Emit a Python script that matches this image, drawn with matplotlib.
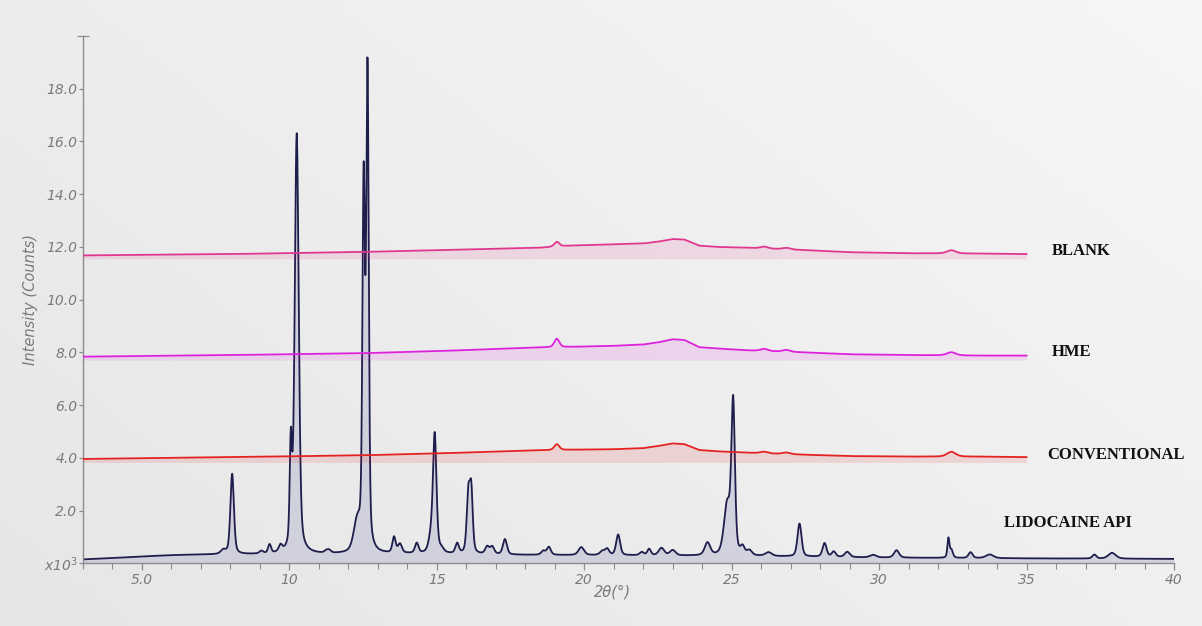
import numpy as np
import matplotlib.pyplot as plt
from matplotlib.ticker import FixedLocator, MultipleLocator

# --- pattern data: baseline points (2theta, intensity x10^3) and peak tables ---
# LIDOCAINE API (crystalline)
api_base_x = [3.0, 4.0, 5.0, 6.0, 7.0, 9.0, 11.0, 14.0, 18.0, 22.0, 26.0, 30.0, 35.0, 40.0]
api_base_y = [0.15, 0.20, 0.26, 0.31, 0.33, 0.34, 0.34, 0.36, 0.32, 0.30, 0.27, 0.22, 0.19, 0.17]
api_pos = [7.76, 8.06, 9.05, 9.33, 9.70, 10.05, 10.25, 11.25, 11.35, 12.30, 12.52, 12.65,
           13.55, 13.75, 14.32, 14.80, 14.93, 15.15, 15.69, 16.07, 16.17, 16.71, 16.88,
           17.31, 18.61, 18.80, 19.90, 20.62, 20.78, 21.15, 21.95, 22.20, 22.62, 23.00,
           24.18, 24.85, 25.05, 25.37, 25.60, 26.25, 27.30, 28.15, 28.46, 28.92, 29.80,
           30.59, 32.35, 32.45, 33.10, 33.75, 37.30, 37.90]
api_height = [0.15, 3.05, 0.10, 0.33, 0.24, 3.80, 15.9, 0.08, 0.10, 1.10, 13.6, 18.0,
              0.60, 0.34, 0.38, 0.55, 4.45, 0.15, 0.38, 2.20, 2.25, 0.28, 0.28,
              0.58, 0.15, 0.30, 0.30, 0.15, 0.22, 0.78, 0.12, 0.24, 0.28, 0.20,
              0.48, 1.90, 5.65, 0.28, 0.18, 0.14, 1.25, 0.52, 0.20, 0.20, 0.10,
              0.28, 0.72, 0.30, 0.22, 0.14, 0.15, 0.22]
api_fwhm = [0.20, 0.14, 0.15, 0.12, 0.14, 0.09, 0.16, 0.15, 0.15, 0.28, 0.10, 0.10,
            0.13, 0.16, 0.14, 0.18, 0.14, 0.20, 0.14, 0.13, 0.12, 0.16, 0.16,
            0.16, 0.16, 0.16, 0.22, 0.20, 0.16, 0.16, 0.16, 0.14, 0.22, 0.22,
            0.22, 0.26, 0.14, 0.16, 0.20, 0.25, 0.16, 0.16, 0.16, 0.20, 0.25,
            0.20, 0.08, 0.12, 0.16, 0.30, 0.16, 0.30]

# amorphous formulations share the same 2theta control points
amo_x = [3.0, 8.0, 12.5, 15.0, 18.5, 19.5, 21.0, 22.0, 22.5, 23.0, 23.4, 23.9,
         24.5, 25.5, 27.5, 29.0, 31.0, 33.5, 35.0]
conv_y = [3.96, 4.03, 4.10, 4.17, 4.29, 4.31, 4.33, 4.37, 4.45, 4.55, 4.52, 4.30,
          4.25, 4.20, 4.12, 4.07, 4.05, 4.05, 4.03]
hme_y = [7.84, 7.90, 7.97, 8.05, 8.19, 8.21, 8.25, 8.30, 8.38, 8.50, 8.47, 8.20,
         8.15, 8.08, 8.00, 7.93, 7.90, 7.88, 7.88]
blank_y = [11.68, 11.73, 11.81, 11.88, 11.97, 12.05, 12.10, 12.13, 12.20, 12.30, 12.28, 12.05,
           12.00, 11.97, 11.88, 11.80, 11.76, 11.75, 11.73]
amo_pos = [19.07, 26.10, 26.85, 32.45]
amo_fwhm = [0.20, 0.30, 0.30, 0.35]
conv_peaks = [0.22, 0.06, 0.06, 0.18]
hme_peaks = [0.32, 0.08, 0.07, 0.12]
blank_peaks = [0.18, 0.07, 0.06, 0.12]

names = ['LIDOCAINE API', 'CONVENTIONAL', 'HME', 'BLANK']
colors = ['#1e1e4c', '#e52222', '#dd22dd', '#e0388f']
label_x = [34.25, 35.7, 35.87, 35.87]
label_y = [1.55, 4.12, 8.02, 11.83]


def profile(x, bx, by, pos, height, fwhm, eta=0.4):
    y = np.interp(x, bx, by)
    for p, h, w in zip(pos, height, fwhm):
        d = (x - p) / (w / 2)
        lor = 1 / (1 + d ** 2)
        gau = np.exp(-np.log(2) * d ** 2)
        y = y + h * (eta * lor + (1 - eta) * gau)
    return y


fig = plt.figure(figsize=(12.02, 6.26), dpi=100)

# soft grey backdrop, a touch lighter toward the top right
bg = fig.add_axes([0, 0, 1, 1], zorder=-1)
gx, gy = np.meshgrid(np.linspace(0, 1, 200), np.linspace(0, 1, 120))
g = 0.6 * gx + 0.4 * gy
bg.imshow(g, cmap=plt.matplotlib.colors.LinearSegmentedColormap.from_list(
    'bg', ['#e6e6e6', '#f7f6f6']), origin='lower', aspect='auto', extent=[0, 1, 0, 1])
bg.axis('off')

ax = fig.add_axes([0.069, 0.100, 0.9077, 0.8425])
ax.set_facecolor('none')

x_api = np.linspace(3, 40, 6000)
y_api = profile(x_api, api_base_x, api_base_y, api_pos, api_height, api_fwhm)
ax.fill_between(x_api, 0, y_api, color='#c9c9da', alpha=0.75, lw=0, zorder=1)
ax.plot(x_api, y_api, color=colors[0], lw=1.3, zorder=2)

x_amo = np.linspace(3, 35, 3000)
for ys, pk, c in [(conv_y, conv_peaks, colors[1]), (hme_y, hme_peaks, colors[2]),
                  (blank_y, blank_peaks, colors[3])]:
    yy = profile(x_amo, amo_x, ys, amo_pos, pk, amo_fwhm)
    ax.fill_between(x_amo, min(ys) - 0.13, yy, color=c, alpha=0.13, lw=0, zorder=3)
    ax.plot(x_amo, yy, color=c, lw=1.3, zorder=4)

for n, lx, ly in zip(names, label_x, label_y):
    ax.text(lx, ly, n, fontsize=12, fontweight='bold', family='Liberation Serif',
            color='#111111', va='center', ha='left', clip_on=False)

ax.set_xlim(3, 40)
ax.set_ylim(0, 20)
for s in ['top', 'right']:
    ax.spines[s].set_visible(False)
for s in ['left', 'bottom']:
    ax.spines[s].set_color('#8c8c8c')
    ax.spines[s].set_linewidth(1.0)

ax.xaxis.set_major_locator(FixedLocator([5, 10, 15, 20, 25, 30, 35, 40]))
ax.set_xticklabels(['5.0', '10', '15', '20', '25', '30', '35', '40'])
ax.xaxis.set_minor_locator(MultipleLocator(1))
ax.set_yticks([0, 2, 4, 6, 8, 10, 12, 14, 16, 18])
ax.set_yticklabels(['x10$^3$', '2.0', '4.0', '6.0', '8.0', '10.0', '12.0', '14.0', '16.0', '18.0'])
ax.yaxis.set_minor_locator(FixedLocator([20]))

ax.tick_params(axis='both', which='major', colors='#8c8c8c', labelcolor='#7a7a7a',
               labelsize=10, length=5, width=0.9)
ax.tick_params(axis='x', which='minor', colors='#8c8c8c', length=4, width=0.8)
ax.tick_params(axis='y', which='minor', colors='#8c8c8c', length=8, width=0.9, direction='inout')
ax.tick_params(axis='y', which='major', pad=1, length=3)
ax.tick_params(axis='x', which='major', pad=2)
for lab in ax.get_xticklabels() + ax.get_yticklabels():
    lab.set_fontstyle('italic')

ax.set_ylabel('Intensity (Counts)', fontsize=10.5, style='italic', color='#7a7a7a', labelpad=4)
ax.set_xlabel('2θ(°)', fontsize=10.5, style='italic', color='#7a7a7a')
ax.xaxis.set_label_coords(0.485, -0.040)

fig.savefig('out.png', dpi=100)
